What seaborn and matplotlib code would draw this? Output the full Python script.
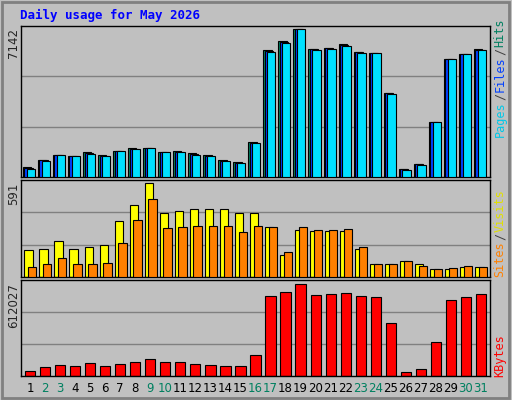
import matplotlib
matplotlib.use("Agg")
import matplotlib.pyplot as plt
import seaborn as sns
import numpy as np
import pandas as pd

sns.set_style("white")
plt.rcParams['font.family'] = ['DejaVu Sans Mono', 'DejaVu Sans']

days = list(range(1, 32))
weekend = [2, 3, 9, 10, 16, 17, 23, 24, 30, 31]
hits_top = [441,418,403,406,396,405,394,384,384,397,393,399,405,420,426,366,91,64,28,88,85,75,97,100,219,445,430,306,118,102,90]
pages_top = [445,421,403,406,400,408,394,388,385,397,397,403,408,422,428,370,97,70,28,91,88,79,100,100,223,448,433,307,118,103,91]
sites_top = [690,687,663,687,681,676,603,555,492,579,573,567,567,567,579,579,621,703,630,633,633,633,687,733,733,723,730,747,747,739,742]
visits_top = [742,733,715,730,733,727,669,600,537,624,621,618,618,618,636,618,621,697,621,630,630,627,681,730,730,723,736,747,744,736,742]
kb_top = [1053,1041,1035,1038,1029,1038,1032,1026,1017,1026,1026,1032,1035,1038,1038,1005,831,819,793,828,825,822,831,834,909,1056,1047,966,843,834,825]

hits = [round(7142 * (470 - t) / 442) for t in hits_top]
pages = [round(7142 * (470 - t) / 442) for t in pages_top]
files = [round((h + p) / 2) for h, p in zip(hits, pages)]
sites = [round(591 * (770 - t) / 278) for t in sites_top]
visits = [round(591 * (770 - t) / 278) for t in visits_top]
kbytes = [round(612027 * (1068 - t) / 275) for t in kb_top]

BG = "#c0c0c0"
fig = plt.figure(figsize=(5.12, 4.0), dpi=100, facecolor=BG)

def axes_px(x0, y0, x1, y1):
    return fig.add_axes([x0 / 512, 1 - y1 / 400, (x1 - x0) / 512, (y1 - y0) / 400])

axs = [axes_px(21, 26, 490, 177), axes_px(21, 180, 490, 277), axes_px(21, 280, 490, 376)]
pos = np.arange(31)
for ax in axs:
    ax.set_facecolor(BG)
    ax.set_xlim(-0.6, 30.6)
    for s in ax.spines.values():
        s.set_color("black")
        s.set_linewidth(1)
    ax.set_xticks([])
    ax.set_yticks([])

# top
ax = axs[0]
top = 7142 * 450 / 442
ax.set_ylim(0, top)
for g in (top / 3, 2 * top / 3):
    ax.axhline(g, color="#808080", lw=1, zorder=0)
ax.bar(pos - 0.2, hits, width=0.55, color="#008060", edgecolor="black", lw=0.8, zorder=2)
ax.bar(pos - 0.1, files, width=0.55, color="#0040ff", edgecolor="black", lw=0.8, zorder=3)
ax.bar(pos + 0.05, pages, width=0.55, color="#00e0ff", edgecolor="black", lw=0.8, zorder=4)

# middle
ax = axs[1]
top = 591 * 288 / 278
ax.set_ylim(0, top)
for g in (top / 3, 2 * top / 3):
    ax.axhline(g, color="#808080", lw=1, zorder=0)
ax.bar(pos - 0.1, sites, width=0.55, color="#ffff00", edgecolor="black", lw=0.8, zorder=2)
ax.bar(pos + 0.15, visits, width=0.55, color="#ff8000", edgecolor="black", lw=0.8, zorder=3)

# bottom
ax = axs[2]
top = 612027 * 286 / 275
df = pd.DataFrame({"day": [str(d) for d in days], "kb": kbytes})
sns.barplot(data=df, x="day", y="kb", color="#ff0000", saturation=1, width=0.68,
            edgecolor="black", linewidth=0.8, ax=ax, zorder=2)
ax.set_xlim(-0.6, 30.6)
ax.set_ylim(0, top)
for g in (top / 3, 2 * top / 3):
    ax.axhline(g, color="#808080", lw=1, zorder=0)
ax.set_xlabel("")
ax.set_ylabel("")
ax.set_yticks([])
ax.set_xticks(pos)
ax.set_xticklabels([str(d) for d in days], fontsize=8.5, family="DejaVu Sans")
ax.tick_params(axis="x", length=0, pad=4)
for lbl, d in zip(ax.get_xticklabels(), days):
    lbl.set_color("#008060" if d in weekend else "black")

fig.text(20 / 512, 1 - 15 / 400, "Daily usage for May 2026", color="#0000ff",
         fontsize=9, fontweight="bold", va="center", ha="left")
for txt, ytop in (("7142", 28), ("591", 183), ("612027", 283)):
    fig.text(14 / 512, 1 - ytop / 400, txt, rotation=90, fontsize=8.5, va="top",
             ha="center", family="DejaVu Sans")

def rlabel(parts, ybot):
    y = 1 - ybot / 400
    for t, c in parts:
        tx = fig.text(500 / 512, y, t, rotation=90, color=c, fontsize=8.5, ha="center", va="bottom")
        fig.canvas.draw()
        bb = tx.get_window_extent()
        y += bb.height / 400 + 0.003

rlabel([("Pages", "#00c8e8"), ("/", "#404040"), ("Files", "#0040ff"), ("/", "#404040"), ("Hits", "#008060")], 137)
rlabel([("Sites", "#ff8000"), ("/", "#404040"), ("Visits", "#e0e000")], 277)
rlabel([("KBytes", "#ff0000")], 377)

# outer frame
fig.patches.append(plt.Rectangle((0.003, 0.005), 0.992, 0.99, transform=fig.transFigure,
                                 fill=False, edgecolor="#808080", lw=2))
fig.savefig("out.png", dpi=100, facecolor=BG)
